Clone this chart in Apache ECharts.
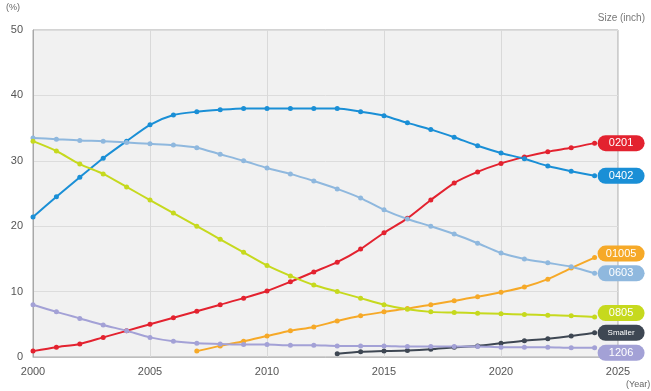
<!DOCTYPE html>
<html>
<head>
<meta charset="utf-8">
<script src="https://cdn.jsdelivr.net/npm/echarts@6/dist/echarts.min.js"></script>
<style>
  html, body { margin: 0; padding: 0; background: #ffffff; }
  #chart { width: 651px; height: 391px; }
</style>
</head>
<body>
<div id="chart"></div>
<script>
// Share of chip sizes by year (%)
const years = [2000,2001,2002,2003,2004,2005,2006,2007,2008,2009,2010,2011,2012,2013,2014,2015,2016,2017,2018,2019,2020,2021,2022,2023,2024];
const sizeNames = ['0201','0402','01005','0603','0805','Smaller','1206'];

const s0201  = [0.9,1.5,2.0,3.0,4.0,5.0,6.0,7.0,8.0,9.0,10.1,11.5,13.0,14.5,16.5,19.0,21.2,24.0,26.6,28.3,29.6,30.6,31.4,32.0,32.7];
const s0402  = [21.4,24.5,27.5,30.4,33.0,35.5,37.0,37.5,37.8,38.0,38.0,38.0,38.0,38.0,37.5,36.9,35.8,34.8,33.6,32.3,31.2,30.3,29.2,28.4,27.7];
const s0603  = [33.5,33.3,33.1,33.0,32.8,32.6,32.4,32.0,31.0,30.0,28.9,28.0,26.9,25.7,24.3,22.5,21.1,20.0,18.8,17.4,15.9,15.0,14.4,13.8,12.8];
const s0805  = [33.0,31.5,29.5,28.0,26.0,24.0,22.0,20.0,18.0,16.0,14.0,12.4,11.0,10.0,9.0,8.0,7.3,6.9,6.8,6.7,6.6,6.5,6.4,6.3,6.1];
const s1206  = [8.0,6.9,5.9,4.9,4.0,3.0,2.4,2.1,2.0,1.9,1.9,1.8,1.8,1.7,1.7,1.7,1.6,1.6,1.6,1.6,1.5,1.5,1.5,1.4,1.4];
const years01005 = [2007,2008,2009,2010,2011,2012,2013,2014,2015,2016,2017,2018,2019,2020,2021,2022,2023,2024];
const s01005 = [0.9,1.7,2.4,3.2,4.0,4.6,5.5,6.3,6.9,7.4,8.0,8.6,9.2,9.9,10.7,11.9,13.6,15.2];
const yearsSmaller = [2013,2014,2015,2016,2017,2018,2019,2020,2021,2022,2023,2024];
const sSmaller = [0.5,0.8,0.9,1.0,1.2,1.5,1.7,2.1,2.5,2.8,3.2,3.7];

const xTicks = [2000, 2005, 2010, 2015, 2020, 2025];
const yTicks = [0, 10, 20, 30, 40, 50];

function pairs(xs, ys) { return xs.map((x, i) => [x, ys[i]]); }

const seriesDefs = [
  { name: '0201',    xs: years,        ys: s0201,    color: '#e3222f', offset: [0, 0] },
  { name: '0402',    xs: years,        ys: s0402,    color: '#1a8fd6', offset: [0, 0] },
  { name: '01005',   xs: years01005,   ys: s01005,   color: '#f6a928', offset: [0, -4] },
  { name: '0603',    xs: years,        ys: s0603,    color: '#8fb8de', offset: [0, 0] },
  { name: '0805',    xs: years,        ys: s0805,    color: '#c6d91e', offset: [0, -4] },
  { name: 'Smaller', xs: yearsSmaller, ys: sSmaller, color: '#3e4753', offset: [0, 0] },
  { name: '1206',    xs: years,        ys: s1206,    color: '#a3a1d6', offset: [0, 5] }
];

const FONT = 'Liberation Sans, Arial, sans-serif';
const chart = echarts.init(document.getElementById('chart'), null, { renderer: 'canvas' });

chart.setOption({
  animation: false,
  grid: {
    left: 33, top: 30, right: 33, bottom: 34,
    show: true, backgroundColor: '#f1f1f1', borderColor: '#a8a8a8', borderWidth: 1
  },
  xAxis: {
    type: 'value', min: xTicks[0], max: xTicks[xTicks.length - 1], interval: 5,
    axisLine: { show: true, lineStyle: { color: '#bdbdbd' } },
    axisTick: { show: false },
    splitLine: { show: true, lineStyle: { color: '#d9d9d9', width: 1 } },
    axisLabel: { color: '#555', fontSize: 11, margin: 9, fontFamily: FONT, formatter: v => String(v) }
  },
  yAxis: {
    type: 'value', min: yTicks[0], max: yTicks[yTicks.length - 1], interval: 10,
    axisLine: { show: true, lineStyle: { color: '#a8a8a8' } },
    axisTick: { show: false },
    splitLine: { show: true, lineStyle: { color: '#dcdcdc', width: 1 } },
    axisLabel: { color: '#555', fontSize: 11, margin: 10, fontFamily: FONT }
  },
  graphic: [
    { type: 'text', left: 6, top: 3, style: { text: '(%)', fill: '#666', fontSize: 9, fontFamily: FONT } },
    { type: 'text', right: 6, top: 13, style: { text: 'Size (inch)', fill: '#777', fontSize: 10, fontFamily: FONT } },
    { type: 'text', left: 626, top: 380, style: { text: '(Year)', fill: '#666', fontSize: 9, fontFamily: FONT } }
  ],
  series: seriesDefs.map(d => ({
    name: d.name,
    type: 'line',
    data: pairs(d.xs, d.ys),
    smooth: 0.25,
    symbol: 'circle',
    symbolSize: 5,
    showSymbol: true,
    lineStyle: { color: d.color, width: 2 },
    itemStyle: { color: d.color },
    clip: false,
    endLabel: {
      show: true,
      formatter: '{t|' + d.name + '}',
      distance: 3,
      offset: d.offset,
      backgroundColor: d.color,
      borderRadius: 8,
      padding: [2, 8],
      rich: {
        t: {
          width: 31,
          height: 12,
          lineHeight: 12,
          align: 'center',
          color: '#ffffff',
          fontSize: d.name === 'Smaller' ? 8 : 11,
          fontFamily: FONT
        }
      }
    }
  }))
});
</script>
</body>
</html>
